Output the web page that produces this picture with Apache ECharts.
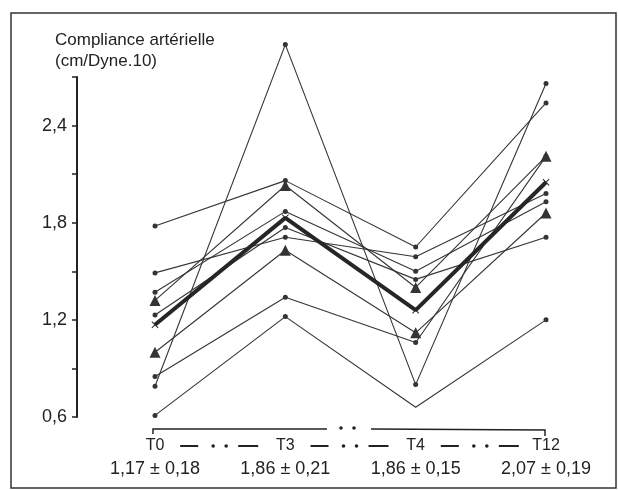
<!DOCTYPE html>
<html>
<head>
<meta charset="utf-8">
<script src="https://cdn.jsdelivr.net/npm/echarts@6/dist/echarts.min.js"></script>
<style>
html,body{margin:0;padding:0;background:#fff;}
#chart{width:618px;height:490px;}
</style>
</head>
<body>
<div id="chart"></div>
<script>
// ---- data ----
const timeLabels = ['T0', 'T3', 'T4', 'T12'];
const meanLabels = ['1,17 ± 0,18', '1,86 ± 0,21', '1,86 ± 0,15', '2,07 ± 0,19'];
const yTickLabels = ['0,6', '1,2', '1,8', '2,4'];
const meanValues = [1.17, 1.83, 1.26, 2.05];
const subj1 = [1.78, 2.06, 1.65, 2.54];
const subj2 = [0.79, 2.90, 0.80, 2.66];
const subj3 = [0.61, 1.22, 0.66, 1.20];
const subj4 = [0.85, 1.34, 1.06, 2.21];
const subj5 = [1.00, 1.63, 1.12, 1.86];
const subj6 = [1.32, 2.03, 1.40, 2.21];
const subj7 = [1.49, 1.71, 1.59, 1.98];
const subj8 = [1.37, 1.87, 1.50, 1.93];
const subj9 = [1.23, 1.77, 1.45, 1.71];

// ---- styles (markers per subject) ----
const subjects = [subj1, subj2, subj3, subj4, subj5, subj6, subj7, subj8, subj9];
const C = 'circle', T = 'triangle', N = 'none';
const markers = [
  [C, C, C, C], [C, C, C, C], [C, C, N, C], [C, C, C, C],
  [T, T, T, T], [T, T, T, T], [C, C, C, C], [C, C, C, C], [C, C, C, C]
];
const ink = '#343434';
const crossPath = 'path://M0,1L1,0L5,4L9,0L10,1L6,5L10,9L9,10L5,6L1,10L0,9L4,5Z';

const chart = echarts.init(document.getElementById('chart'), null, {renderer: 'canvas'});

const series = subjects.map((vals, si) => ({
  type: 'line',
  clip: false,
  silent: true,
  z: 2,
  lineStyle: {color: ink, width: 1.1},
  itemStyle: {color: ink},
  data: vals.map((v, i) => ({
    value: v,
    symbol: markers[si][i],
    symbolSize: markers[si][i] === 'triangle' ? 11 : 5
  }))
}));
series.push({
  type: 'line',
  clip: false,
  silent: true,
  z: 5,
  lineStyle: {color: '#262626', width: 4},
  itemStyle: {color: '#262626'},
  symbol: crossPath,
  symbolSize: 7,
  data: meanValues
});

const option = {
  backgroundColor: '#fff',
  animation: false,
  grid: {left: 155, right: 72, top: 77, bottom: 73},
  xAxis: {
    type: 'category',
    boundaryGap: false,
    data: timeLabels,
    axisLine: {show: false},
    axisTick: {show: false},
    axisLabel: {
      margin: 18,
      interval: 0,
      formatter: (val, idx) => '{t|' + val + '}\n{v|' + meanLabels[idx] + '}',
      rich: {
        t: {fontSize: 16, lineHeight: 22, color: '#222', fontFamily: 'Liberation Sans'},
        v: {fontSize: 18, lineHeight: 24, color: '#222', fontFamily: 'Liberation Sans'}
      }
    }
  },
  yAxis: {
    type: 'value',
    min: 0.6,
    max: 2.7,
    interval: 0.3,
    offset: 78,
    axisLine: {show: true, lineStyle: {color: '#222', width: 2}},
    axisTick: {show: true, length: 5, lineStyle: {color: '#222', width: 1.5}},
    splitLine: {show: false},
    axisLabel: {
      margin: 10,
      fontSize: 18,
      color: '#222',
      fontFamily: 'Liberation Sans',
      formatter: v => {
        const k = Math.round(v * 10);
        const lbl = (k / 10).toFixed(1).replace('.', ',');
        return yTickLabels.indexOf(lbl) >= 0 ? lbl : '';
      }
    }
  },
  series: series
};
chart.setOption(option);

// ---- decorations ----
const px = i => chart.convertToPixel({xAxisIndex: 0}, i);
const yBase = chart.convertToPixel({yAxisIndex: 0}, 0.6);
const els = [];
// frame
els.push({type: 'rect', shape: {x: 11, y: 13, width: 605, height: 475},
  style: {fill: 'none', stroke: '#333', lineWidth: 1.5}, silent: true});
// title
els.push({type: 'text', left: 55, top: 32, style: {text: 'Compliance artérielle', font: '17px "Liberation Sans"', fill: '#222'}});
els.push({type: 'text', left: 55, top: 53, style: {text: '(cm/Dyne.10)', font: '17px "Liberation Sans"', fill: '#222'}});

const rowY = yBase + 29;
for (let i = 0; i < 3; i++) {
  const mid = (px(i) + px(i + 1)) / 2;
  els.push({type: 'line', shape: {x1: mid - 40, y1: rowY, x2: mid - 22, y2: rowY}, style: {stroke: '#222', lineWidth: 2}});
  els.push({type: 'line', shape: {x1: mid + 18, y1: rowY, x2: mid + 38, y2: rowY}, style: {stroke: '#222', lineWidth: 2}});
  els.push({type: 'circle', shape: {cx: mid - 7, cy: rowY, r: 1.8}, style: {fill: '#222'}});
  els.push({type: 'circle', shape: {cx: mid + 6, cy: rowY, r: 1.8}, style: {fill: '#222'}});
}
// significance bracket
const bY = yBase + 12;
const x0 = px(0) - 2, x3 = px(3) - 1, m = (x0 + x3) / 2;
els.push({type: 'polyline', shape: {points: [[x0, bY + 5], [x0, bY], [m - 22, bY]]}, style: {stroke: '#222', lineWidth: 1.5, fill: 'none'}});
els.push({type: 'polyline', shape: {points: [[m + 22, bY], [x3, bY + 1], [x3, bY + 7]]}, style: {stroke: '#222', lineWidth: 1.5, fill: 'none'}});
els.push({type: 'circle', shape: {cx: m - 8, cy: bY - 1, r: 1.8}, style: {fill: '#222'}});
els.push({type: 'circle', shape: {cx: m + 5, cy: bY - 1, r: 1.8}, style: {fill: '#222'}});

chart.setOption({graphic: {elements: els}});
</script>
</body>
</html>
